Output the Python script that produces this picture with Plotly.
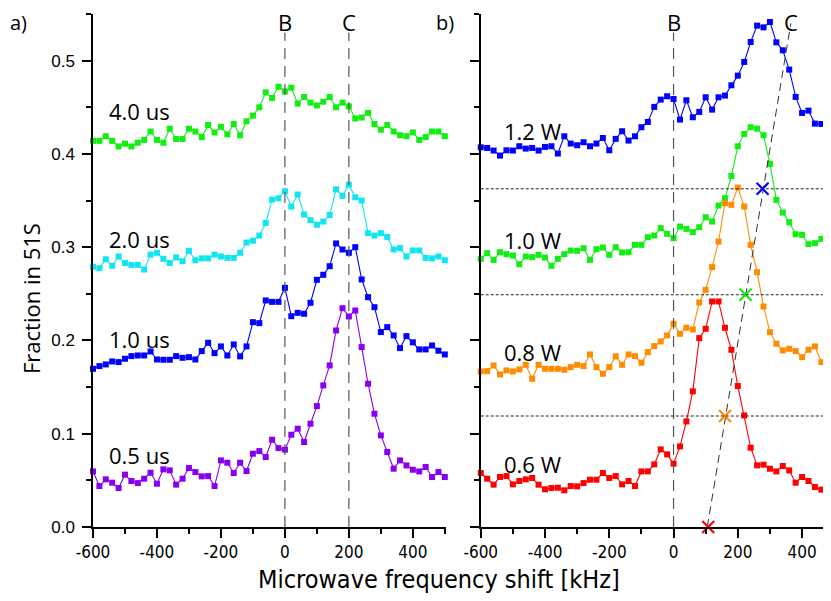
import plotly.graph_objects as go

# ---------------- data ----------------
freq_left = [-600, -580, -560, -540, -520, -500, -480, -460, -440, -420,
             -400, -380, -360, -340, -320, -300, -280, -260, -240, -220,
             -200, -180, -160, -140, -120, -100, -80, -60, -40, -20,
             0, 20, 40, 60, 80, 100, 120, 140, 160, 180,
             200, 220, 240, 260, 280, 300, 320, 340, 360, 380,
             400, 420, 440, 460, 480, 500]
freq_right = freq_left[:-1]

us_40 = [0.414, 0.414, 0.419, 0.414, 0.408, 0.411, 0.408, 0.412, 0.415, 0.424,
         0.415, 0.412, 0.427, 0.416, 0.416, 0.427, 0.424, 0.418, 0.431, 0.423,
         0.429, 0.421, 0.432, 0.420, 0.435, 0.441, 0.450, 0.466, 0.460, 0.472,
         0.467, 0.471, 0.454, 0.461, 0.455, 0.452, 0.456, 0.461, 0.450, 0.455,
         0.451, 0.438, 0.439, 0.444, 0.432, 0.426, 0.431, 0.424, 0.420, 0.419,
         0.423, 0.415, 0.418, 0.424, 0.424, 0.419]
us_20 = [0.279, 0.2775, 0.287, 0.280, 0.290, 0.283, 0.281, 0.281, 0.276, 0.292,
         0.294, 0.2875, 0.283, 0.289, 0.285, 0.296, 0.286, 0.288, 0.288, 0.292,
         0.290, 0.2885, 0.2885, 0.294, 0.305, 0.307, 0.3125, 0.326, 0.351, 0.3525,
         0.360, 0.3435, 0.3565, 0.335, 0.329, 0.324, 0.3275, 0.3345, 0.362, 0.355,
         0.367, 0.3535, 0.350, 0.315, 0.3125, 0.315, 0.311, 0.2975, 0.299, 0.290,
         0.2965, 0.2965, 0.2885, 0.288, 0.290, 0.286]
us_10 = [0.1696, 0.1725, 0.1743, 0.1775, 0.1768, 0.1804, 0.1832, 0.1839, 0.1839, 0.1882,
         0.1796, 0.1793, 0.1793, 0.1832, 0.1814, 0.1821, 0.1796, 0.1886, 0.1975, 0.1864,
         0.1936, 0.1839, 0.1957, 0.1829, 0.1936, 0.2196, 0.2186, 0.2429, 0.2414, 0.2414,
         0.2564, 0.226, 0.2296, 0.2286, 0.2404, 0.265, 0.2704, 0.2796, 0.304, 0.2975,
         0.294, 0.300, 0.2654, 0.2464, 0.2357, 0.209, 0.2143, 0.2054, 0.1918, 0.2046,
         0.198, 0.1904, 0.1904, 0.1946, 0.189, 0.185]
us_05 = [0.0596, 0.0439, 0.0511, 0.0475, 0.0418, 0.0561, 0.0493, 0.0471, 0.0518, 0.0582,
         0.0464, 0.0618, 0.0607, 0.0454, 0.0518, 0.0632, 0.0589, 0.0543, 0.0546, 0.0439,
         0.0714, 0.0689, 0.0579, 0.0689, 0.060, 0.0786, 0.0814, 0.075, 0.0936, 0.0846,
         0.0829, 0.0989, 0.1054, 0.0911, 0.1107, 0.1296, 0.1518, 0.1732, 0.2107, 0.2346,
         0.2257, 0.2321, 0.1929, 0.1536, 0.1214, 0.0982, 0.0804, 0.0625, 0.0714, 0.066,
         0.0614, 0.0596, 0.0643, 0.0536, 0.0589, 0.0536]

w_12 = [0.4071, 0.4064, 0.4036, 0.3982, 0.4039, 0.4036, 0.4082, 0.4057, 0.4064, 0.4036,
        0.4075, 0.4082, 0.4004, 0.4189, 0.4111, 0.4093, 0.4125, 0.4082, 0.4111, 0.4171,
        0.4039, 0.4161, 0.4243, 0.4143, 0.4189, 0.4286, 0.4343, 0.4504, 0.4582, 0.4618,
        0.4589, 0.4368, 0.4575, 0.4393, 0.445, 0.4607, 0.4475, 0.4607, 0.4625, 0.4736,
        0.4839, 0.4986, 0.520, 0.5375, 0.5357, 0.5414, 0.5196, 0.5111, 0.4904, 0.4611,
        0.4439, 0.4464, 0.4325, 0.4321, 0.4232]
w_10 = [0.2875, 0.2936, 0.2864, 0.2946, 0.2925, 0.2911, 0.2818, 0.290, 0.2893, 0.2918,
        0.2889, 0.280, 0.2875, 0.2925, 0.2964, 0.2961, 0.2989, 0.2864, 0.2979, 0.2996,
        0.2918, 0.300, 0.2943, 0.2946, 0.3025, 0.3025, 0.3107, 0.3125, 0.3204, 0.3143,
        0.3096, 0.3221, 0.3196, 0.3161, 0.3214, 0.3321, 0.3275, 0.3446, 0.3525, 0.3764,
        0.4082, 0.4214, 0.4286, 0.4271, 0.420, 0.3893, 0.3507, 0.3371, 0.3268, 0.3139,
        0.3132, 0.3032, 0.3043, 0.3089, 0.3043]
w_08 = [0.1668, 0.1671, 0.1732, 0.1636, 0.1679, 0.1668, 0.1689, 0.1739, 0.1589, 0.1739,
        0.1696, 0.1696, 0.1696, 0.1686, 0.1714, 0.1739, 0.1725, 0.185, 0.1714, 0.1643,
        0.1714, 0.1829, 0.1739, 0.185, 0.1832, 0.1761, 0.1875, 0.1939, 0.1989, 0.2054,
        0.2179, 0.2071, 0.2136, 0.2118, 0.2407, 0.2543, 0.2786, 0.3061, 0.3471, 0.3454,
        0.3639, 0.3436, 0.3025, 0.2732, 0.2364, 0.2089, 0.1964, 0.1893, 0.1911, 0.1886,
        0.1821, 0.190, 0.1936, 0.1768, 0.1768]
w_06 = [0.0579, 0.0518, 0.0454, 0.0536, 0.0546, 0.0457, 0.0493, 0.0511, 0.0525, 0.0454,
        0.0404, 0.0418, 0.0421, 0.0393, 0.0439, 0.0436, 0.0471, 0.0507, 0.0507, 0.0579,
        0.0525, 0.0546, 0.0457, 0.0493, 0.0439, 0.0596, 0.0596, 0.0671, 0.0832, 0.0779,
        0.0679, 0.0864, 0.1132, 0.1454, 0.2025, 0.2125, 0.2418, 0.2418, 0.2136, 0.190,
        0.1511, 0.1196, 0.085, 0.0661, 0.0668, 0.0625, 0.0596, 0.0654, 0.0607, 0.0475,
        0.0536, 0.0493, 0.0429, 0.040, 0.0507]

# half-maximum crossings (x markers) and the C-line
cross_x = [108, 160, 224, 277]
cross_y = [0.0, 0.119, 0.249, 0.3626]
cross_colors = ["#ff0000", "#ff8c00", "#11ee11", "#0000ff"]
c_line_x = [105, 365]
c_line_y = [0.0, 0.54]

x_tick_vals = [-600, -400, -200, 0, 200, 400]
x_tick_text = ["-600", "-400", "-200", "0", "200", "400"]

left_labels = ["4.0 us", "2.0 us", "1.0 us", "0.5 us"]
left_label_y = [0.4465, 0.309, 0.2018, 0.0768]
right_labels = ["1.2 W", "1.0 W", "0.8 W", "0.6 W"]
right_label_y = [0.4243, 0.308, 0.1875, 0.068]

B_pos, C_pos = 0, 200
C_right_pos = 367

col_green = "#11ee11"
col_cyan = "#11e6f0"
col_blue = "#0000ff"
col_purple = "#8800ee"
col_orange = "#ff8c00"
col_red = "#ff0000"

# ---------------- figure ----------------
fig = go.Figure()

def series(x, y, color, xa, ya):
    fig.add_trace(go.Scatter(
        x=x, y=y, mode="lines+markers", xaxis=xa, yaxis=ya,
        line=dict(color=color, width=1.1),
        marker=dict(symbol="square", size=6, color=color),
        cliponaxis=False, showlegend=False))

series(freq_left, us_40, col_green, "x", "y")
series(freq_left, us_20, col_cyan, "x", "y")
series(freq_left, us_10, col_blue, "x", "y")
series(freq_left, us_05, col_purple, "x", "y")
series(freq_right, w_12, col_blue, "x2", "y2")
series(freq_right, w_10, col_green, "x2", "y2")
series(freq_right, w_08, col_orange, "x2", "y2")
series(freq_right, w_06, col_red, "x2", "y2")

fig.add_trace(go.Scatter(x=c_line_x, y=c_line_y, mode="lines", xaxis="x2", yaxis="y2",
                         line=dict(color="#333333", width=1, dash="8px,5px"),
                         cliponaxis=False, showlegend=False))
fig.add_trace(go.Scatter(x=cross_x, y=cross_y, mode="markers", xaxis="x2", yaxis="y2",
                         marker=dict(symbol="x-thin", size=12,
                                     line=dict(width=2.2, color=cross_colors)),
                         cliponaxis=False, showlegend=False))

shapes = []
for xv in [B_pos, C_pos]:
    shapes.append(dict(type="line", xref="x", yref="y", x0=xv, x1=xv, y0=0, y1=0.53,
                       line=dict(color="#555555", width=1.2, dash="11px,7px")))
shapes.append(dict(type="line", xref="x2", yref="y2", x0=B_pos, x1=B_pos, y0=0, y1=0.53,
                   line=dict(color="#555555", width=1.2, dash="11px,7px")))
for yv in cross_y[1:]:
    shapes.append(dict(type="line", xref="x2 domain", yref="y2", x0=0, x1=1, y0=yv, y1=yv,
                       line=dict(color="#222222", width=1, dash="3px,2px")))

lab_font = dict(family="Open Sans, Noto Sans, sans-serif", size=22, color="black")
corner_font = dict(family="Open Sans, Noto Sans, sans-serif", size=20, color="black")
ann = []

def add_ann(text, x, y, xref, yref, font=lab_font, angle=0):
    ann.append(dict(text=text, x=x, y=y, xref=xref, yref=yref, showarrow=False,
                    xanchor="center", yanchor="middle", textangle=angle, font=font))

for t, yv in zip(left_labels, left_label_y):
    add_ann(t, -454, yv, "x", "y")
for t, yv in zip(right_labels, right_label_y):
    add_ann(t, -439, yv, "x2", "y2")
add_ann("B", B_pos, 0.5415, "x", "y")
add_ann("C", C_pos, 0.5415, "x", "y")
add_ann("B", B_pos, 0.5415, "x2", "y2")
add_ann("C", C_right_pos, 0.5415, "x2", "y2")
add_ann("a)", -0.1016, 0.983, "paper", "paper", font=corner_font)
add_ann("b)", 0.477, 0.983, "paper", "paper", font=corner_font)
add_ann("Fraction in 51S", -0.084, 0.4444, "paper", "paper", angle=-90)
add_ann("Microwave frequency shift [kHz]", 0.469, -0.1033, "paper", "paper",
        font=dict(family="Liberation Sans Narrow, Arial Narrow, DejaVu Sans Condensed, sans-serif",
                  size=25, color="black"))

tick_x_font = dict(family="Liberation Sans Narrow, Arial Narrow, DejaVu Sans Condensed, sans-serif",
                   size=17, color="black")
tick_y_font = dict(family="Liberation Sans, Arial, sans-serif", size=17, color="black")

xcommon = dict(tickmode="array", tickvals=x_tick_vals, ticktext=x_tick_text,
               ticks="outside", ticklen=9, tickwidth=1.5, tickcolor="black",
               showline=True, linewidth=1.5, linecolor="black", showgrid=False, zeroline=False,
               minor=dict(tickmode="linear", tick0=-600, dtick=100, ticks="outside", ticklen=5,
                          tickwidth=1.5, tickcolor="black", showgrid=False),
               tickfont=tick_x_font)
ycommon = dict(range=[0, 0.55], tick0=0, dtick=0.1, ticks="outside", ticklen=9, tickwidth=1.5,
               tickcolor="black", showline=True, linewidth=1.5, linecolor="black",
               showgrid=False, zeroline=False, tickformat=".1f",
               minor=dict(tick0=0, dtick=0.05, ticks="outside", ticklen=5, tickwidth=1.5,
                          tickcolor="black", showgrid=False),
               tickfont=tick_y_font)

# the page body adds an 8px offset, so margins are shifted accordingly
fig.update_layout(
    width=831, height=601,
    margin=dict(l=85, r=8, t=6, b=82),
    paper_bgcolor="white", plot_bgcolor="white",
    showlegend=False,
    xaxis=dict(domain=[0, 0.4789], range=[-600, 505], anchor="y", **xcommon),
    xaxis2=dict(domain=[0.5254, 1], range=[-600, 490], anchor="y2", **xcommon),
    yaxis=dict(anchor="x", ticklabelstandoff=4, **ycommon),
    yaxis2=dict(anchor="x2", showticklabels=False, **ycommon),
    shapes=shapes, annotations=ann,
)

fig.write_html("out.html")
